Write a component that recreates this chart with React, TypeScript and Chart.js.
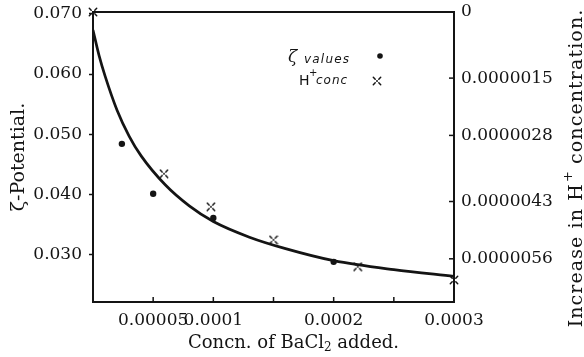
import React, { useEffect, useRef } from 'react';
import { Chart, registerables } from 'chart.js';

Chart.register(...registerables);

// ---- data ----
const curveX = [0, 0.000005, 0.00001, 0.00002, 0.00003, 0.00004, 0.00006, 0.00008, 0.0001, 0.00013, 0.00016, 0.0002, 0.00025, 0.0003];
const curveY = [0.0673, 0.0631, 0.0597, 0.0540, 0.0497, 0.0464, 0.0416, 0.0381, 0.0355, 0.0329, 0.0310, 0.0290, 0.0275, 0.0264];

const zetaX = [0.000024, 0.00005, 0.0001, 0.0002];
const zetaY = [0.0484, 0.0401, 0.0361, 0.0288];

const hX = [0, 0.000059, 0.000098, 0.00015, 0.00022, 0.0003];
const hY = [0, 3.67e-6, 4.42e-6, 5.17e-6, 5.78e-6, 6.08e-6];

const leftTicks = [0.03, 0.04, 0.05, 0.06, 0.07];
const leftTickLabels = ['0.030', '0.040', '0.050', '0.060', '0.070'];
const rightTicks = [0, 1.5e-6, 2.8e-6, 4.3e-6, 5.6e-6];
const rightTickLabels = ['0', '0.0000015', '0.0000028', '0.0000043', '0.0000056'];
const xTicks = [0.00005, 0.0001, 0.00015, 0.0002, 0.00025, 0.0003];
const xTickLabels = ['0.00005', '0.0001', '', '0.0002', '', '0.0003'];

const INK = '#141414';
const SERIF = '"DejaVu Serif", serif';

function makeCross(): HTMLCanvasElement {
  const c = document.createElement('canvas');
  c.width = 10;
  c.height = 10;
  const g = c.getContext('2d')!;
  g.strokeStyle = INK;
  g.fillStyle = INK;
  g.lineWidth = 1.5;
  g.lineCap = 'round';
  const segs = [
    [1.3, 1.3, 3.2, 3.2],
    [8.7, 1.3, 6.8, 3.2],
    [1.3, 8.7, 3.2, 6.8],
    [8.7, 8.7, 6.8, 6.8],
  ];
  segs.forEach(([a, b, c2, d]) => {
    g.beginPath();
    g.moveTo(a, b);
    g.lineTo(c2, d);
    g.stroke();
  });
  g.beginPath();
  g.arc(5, 5, 1, 0, Math.PI * 2);
  g.fill();
  return c;
}

export default function App() {
  const ref = useRef<HTMLCanvasElement | null>(null);

  useEffect(() => {
    const canvas = ref.current!;
    const cross = makeCross();

    const decor = {
      id: 'decor',
      afterDraw(chart: any) {
        const { ctx, chartArea: ca, scales } = chart;
        ctx.save();
        ctx.strokeStyle = INK;
        ctx.fillStyle = INK;
        // top frame line
        ctx.lineWidth = 2;
        ctx.beginPath();
        ctx.moveTo(ca.left - 1, ca.top);
        ctx.lineTo(ca.right + 1, ca.top);
        ctx.stroke();
        // inward x ticks
        ctx.lineWidth = 1.5;
        xTicks.forEach((v) => {
          if (v >= 0.0003) return;
          const px = scales.x.getPixelForValue(v);
          ctx.beginPath();
          ctx.moveTo(px, ca.bottom);
          ctx.lineTo(px, ca.bottom - 5);
          ctx.stroke();
        });
        // inward right ticks
        rightTicks.forEach((v) => {
          if (v === 0) return;
          const py = scales.y2.getPixelForValue(v);
          ctx.beginPath();
          ctx.moveTo(ca.right, py);
          ctx.lineTo(ca.right - 5, py);
          ctx.stroke();
        });

        // x title with subscript
        ctx.textBaseline = 'alphabetic';
        ctx.textAlign = 'left';
        const f1 = `18px ${SERIF}`;
        const fs = `12px ${SERIF}`;
        ctx.font = f1;
        const a = 'Concn. of BaCl';
        const b = ' added.';
        const wa = ctx.measureText(a).width;
        const wb = ctx.measureText(b).width;
        ctx.font = fs;
        const w2 = ctx.measureText('2').width;
        const total = wa + w2 + wb;
        const x0 = (ca.left + ca.right) / 2 + 20 - total / 2;
        const by = 348;
        ctx.font = f1;
        ctx.fillText(a, x0, by);
        ctx.font = fs;
        ctx.fillText('2', x0 + wa, by + 3);
        ctx.font = f1;
        ctx.fillText(b, x0 + wa + w2, by);

        // right title, reading bottom to top
        const fr = `19px ${SERIF}`;
        const frs = `13px ${SERIF}`;
        const r1 = 'Increase in H';
        const r2 = ' concentration.';
        ctx.save();
        (ctx as any).letterSpacing = '1.1px';
        ctx.font = fr;
        const wr1 = ctx.measureText(r1).width;
        const wr2 = ctx.measureText(r2).width;
        ctx.font = frs;
        const wp = ctx.measureText('+').width;
        const rt = wr1 + wp + wr2;
        ctx.translate(582, 168);
        ctx.rotate(-Math.PI / 2);
        const rx = -rt / 2;
        ctx.font = fr;
        ctx.fillText(r1, rx, 0);
        ctx.font = frs;
        ctx.fillText('+', rx + wr1 + 1, -10);
        ctx.font = fr;
        ctx.fillText(r2, rx + wr1 + wp, 0);
        ctx.restore();

        // legend
        ctx.textBaseline = 'middle';
        ctx.textAlign = 'left';
        ctx.font = `italic 17px ${SERIF}`;
        ctx.fillText('ζ', 288, 58);
        ctx.save();
        (ctx as any).letterSpacing = '1.2px';
        ctx.font = `italic 12px "DejaVu Sans", sans-serif`;
        ctx.fillText('values', 304, 60);
        ctx.restore();
        ctx.beginPath();
        ctx.arc(380, 56, 2.8, 0, Math.PI * 2);
        ctx.fill();
        ctx.font = `14px "DejaVu Sans", sans-serif`;
        ctx.fillText('H', 299, 81);
        ctx.font = `10px "DejaVu Sans", sans-serif`;
        ctx.fillText('+', 309, 73);
        ctx.save();
        (ctx as any).letterSpacing = '1px';
        ctx.font = `italic 12px "DejaVu Sans", sans-serif`;
        ctx.fillText('conc', 316, 81);
        ctx.restore();
        ctx.drawImage(cross, 377 - 5, 81 - 5);
        ctx.restore();
      },
    };

    const chart = new Chart(canvas, {
      type: 'scatter',
      data: {
        datasets: [
          {
            type: 'line',
            label: 'curve',
            data: curveX.map((x, i) => ({ x, y: curveY[i] })),
            yAxisID: 'y',
            borderColor: INK,
            borderWidth: 2.7,
            pointRadius: 0,
            cubicInterpolationMode: 'monotone',
            fill: false,
          } as any,
          {
            label: 'ζ values',
            data: zetaX.map((x, i) => ({ x, y: zetaY[i] })),
            yAxisID: 'y',
            pointStyle: 'circle',
            pointRadius: 3.2,
            backgroundColor: INK,
            borderColor: INK,
            borderWidth: 0,
            clip: false,
          } as any,
          {
            label: 'H+ conc',
            data: hX.map((x, i) => ({ x, y: hY[i] })),
            yAxisID: 'y2',
            pointStyle: cross,
            pointRadius: 5,
            clip: false,
          } as any,
        ],
      },
      options: {
        animation: false,
        responsive: false,
        devicePixelRatio: 1,
        layout: { padding: { top: 12, left: 0, right: 0, bottom: 0 } },
        plugins: { legend: { display: false }, tooltip: { enabled: false } },
        scales: {
          x: {
            type: 'linear',
            position: 'bottom',
            min: 0,
            max: 0.0003,
            afterBuildTicks: (s: any) => {
              s.ticks = xTicks.map((v) => ({ value: v }));
            },
            afterFit: (s: any) => {
              s.height = 55;
              s.paddingLeft = 0;
              s.paddingRight = 0;
            },
            ticks: {
              autoSkip: false,
              maxRotation: 0,
              padding: 8,
              color: INK,
              font: { family: SERIF, size: 17 },
              callback: (v: any) => {
                const i = xTicks.indexOf(v);
                return i >= 0 ? xTickLabels[i] : '';
              },
            },
            grid: { drawOnChartArea: false, drawTicks: false },
            border: { display: true, color: INK, width: 2 },
          },
          y: {
            type: 'linear',
            position: 'left',
            min: 0.02213,
            max: 0.0703,
            afterBuildTicks: (s: any) => {
              s.ticks = leftTicks.map((v) => ({ value: v }));
            },
            afterFit: (s: any) => {
              s.width = 93;
              s.paddingTop = 0;
              s.paddingBottom = 0;
            },
            ticks: {
              autoSkip: false,
              padding: 7,
              color: INK,
              font: { family: SERIF, size: 17 },
              callback: (v: any) => {
                const i = leftTicks.indexOf(v);
                return i >= 0 ? leftTickLabels[i] : '';
              },
            },
            grid: { drawOnChartArea: false, drawTicks: true, tickLength: 4, tickColor: INK, tickWidth: 1.5 },
            border: { display: true, color: INK, width: 2 },
            title: {
              display: true,
              text: 'ζ-Potential.',
              color: INK,
              font: { family: SERIF, size: 19 },
              padding: { top: 8, bottom: 0 },
            },
          },
          y2: {
            type: 'linear',
            position: 'right',
            reverse: true,
            min: 0,
            max: 6.58e-6,
            afterBuildTicks: (s: any) => {
              s.ticks = rightTicks.map((v) => ({ value: v }));
            },
            afterFit: (s: any) => {
              s.width = 130;
              s.paddingTop = 0;
              s.paddingBottom = 0;
            },
            ticks: {
              autoSkip: false,
              padding: 7,
              color: INK,
              font: { family: SERIF, size: 17 },
              callback: (v: any) => {
                const i = rightTicks.indexOf(v);
                return i >= 0 ? rightTickLabels[i] : '';
              },
            },
            grid: { drawOnChartArea: false, drawTicks: false },
            border: { display: true, color: INK, width: 2 },
          },
        },
      },
      plugins: [decor],
    } as any);

    return () => chart.destroy();
  }, []);

  return (
    <div style={{ position: 'fixed', left: 0, top: 0, width: 584, height: 357, background: '#fff' }}>
      <canvas ref={ref} width={584} height={357} style={{ display: 'block', width: 584, height: 357 }} />
    </div>
  );
}
